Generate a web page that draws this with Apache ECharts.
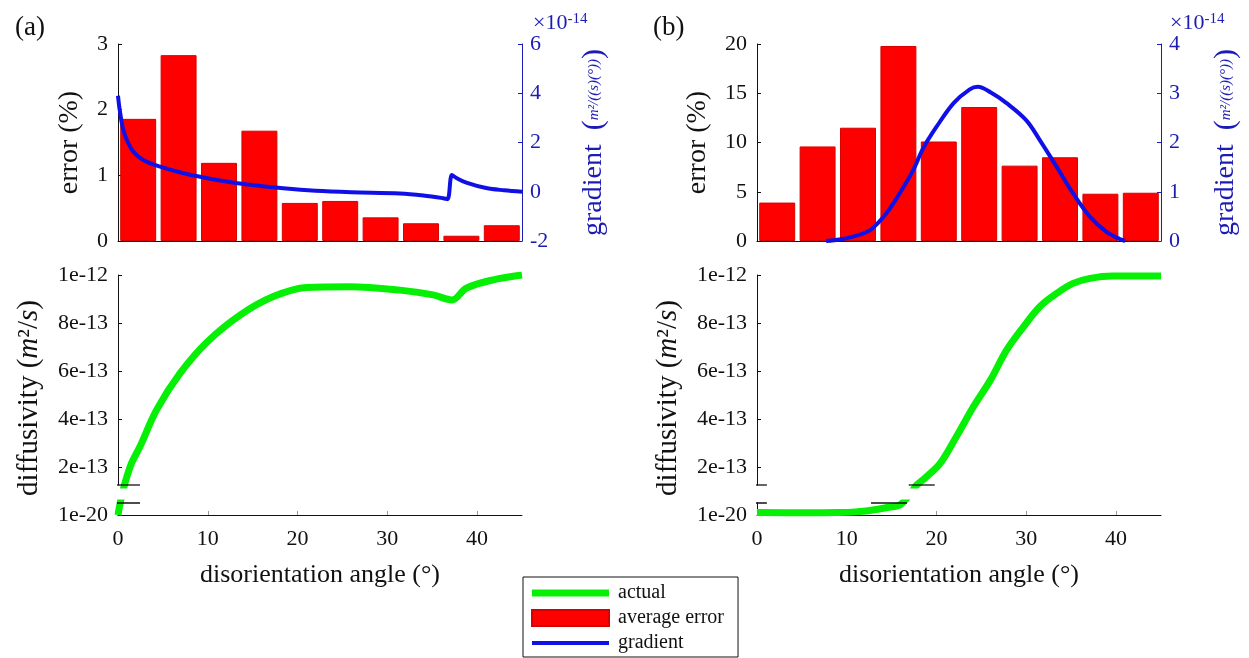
<!DOCTYPE html>
<html>
<head>
<meta charset="utf-8">
<script src="https://cdn.jsdelivr.net/npm/echarts@6/dist/echarts.min.js"></script>
<style>
  html, body { margin: 0; padding: 0; background: #fff; }
  #chart { width: 1249px; height: 658px; }
</style>
</head>
<body>
<div id="chart"></div>
<script>
// Angle bins (degrees) of the average-error histograms
const binLabels = ['0–4.5', '4.5–9', '9–13.5', '13.5–18', '18–22.5',
                   '22.5–27', '27–31.5', '31.5–36', '36–40.5', '40.5–45'];

// Average error per bin (%)
const errorA = [1.86, 2.83, 1.19, 1.68, 0.58, 0.61, 0.36, 0.27, 0.08, 0.24];
const errorB = [3.9, 9.6, 11.5, 19.8, 10.1, 13.6, 7.65, 8.5, 4.8, 4.9];

// Gradient of the diffusivity, [angle (deg), value (x1e-14)]
const gradientA = [[0, 3.9], [0.2, 3.3], [0.6, 2.5], [1.15, 1.97], [1.7, 1.63], [2.8, 1.29],
  [4.7, 1.02], [7.3, 0.75], [11, 0.48], [14.7, 0.28], [18.4, 0.14], [22, 0.04], [26, -0.02],
  [31.4, -0.07], [34, -0.15], [36.2, -0.26], [36.7, -0.3], [37.2, 0.68], [37.7, 0.56],
  [38.8, 0.37], [41, 0.15], [43, 0.06], [45, 0.0]];
const gradientB = [[7.7, 0.0], [9.2, 0.03], [10.7, 0.09], [12.6, 0.22], [14.4, 0.56],
  [15.9, 0.97], [17.4, 1.44], [18.5, 1.88], [20.0, 2.32], [21.9, 2.8], [23.7, 3.08],
  [24.6, 3.13], [26.0, 3.02], [27.8, 2.8], [30.0, 2.45], [31.5, 2.05], [33.4, 1.5],
  [35.2, 0.97], [37.1, 0.49], [38.9, 0.19], [40.4, 0.04], [41, 0.0]];

// Diffusivity, [angle (deg), value (m^2/s)]
const diffusivityA = [[0, 1e-20], [0.3, 6e-14], [0.78, 1.33e-13], [1.5, 2.15e-13], [2.45, 2.85e-13],
  [4.3, 4.38e-13], [6.9, 5.9e-13], [9.9, 7.2e-13], [13.6, 8.33e-13], [17.3, 9.1e-13],
  [21, 9.48e-13], [25.8, 9.51e-13], [31.4, 9.37e-13], [35.1, 9.17e-13], [37.2, 8.96e-13],
  [38.8, 9.45e-13], [41.8, 9.8e-13], [45, 1.0e-12]];
const diffusivityB = [[0, 1e-14], [5, 0.9e-14], [9, 1e-14], [11, 1.3e-14], [12.9, 2.1e-14],
  [14.5, 3.1e-14], [15.9, 4.2e-14], [17, 8.5e-14], [17.8, 1.25e-13], [18.9, 1.6e-13],
  [20.4, 2.15e-13], [22.2, 3.26e-13], [24.1, 4.51e-13], [26.0, 5.62e-13], [27.8, 6.87e-13],
  [29.7, 7.85e-13], [31.5, 8.68e-13], [33.4, 9.24e-13], [35.2, 9.65e-13], [37.1, 9.86e-13],
  [39.6, 9.96e-13], [45, 9.96e-13]];

// Broken diffusivity axis: lower segment [lowerMin, lowerMax], upper segment [upperMin, upperMax]
const lowerMin = 1e-20, lowerMax = 5e-14, upperMin = 1.25e-13, upperMax = 1e-12;
const upperTicks = [2e-13, 4e-13, 6e-13, 8e-13, 1e-12];
const angleTicks = [0, 10, 20, 30, 40];

// Angle spans of the break marks drawn at the edges of the two segments
const breakLowerA = [[-1, 2.45]];
const breakUpperA = [[-1, 2.45]];
const breakLowerB = [[-0.9, 1.1], [12.7, 16.7]];
const breakUpperB = [[-0.9, 1.1], [16.9, 19.8]];

const FONT = '"Liberation Serif", "Times New Roman", serif';
const BLACK = '#111';
const AXIS_BLUE = '#1c1cb4';
const RED = '#ff0000';
const GREEN = '#06f006';
const BLUE = '#1010e6';

const gradientName = 'gradient  {p|(}{f|m²/((s)(°))}{p|)}';
const gradientRich = {
  p: { fontSize: 30, fontFamily: FONT, color: AXIS_BLUE },
  f: { fontSize: 15, fontFamily: FONT, color: AXIS_BLUE, fontStyle: 'italic' }
};

function baseAxisStyle(color) {
  return {
    axisLine: { show: true, onZero: false, lineStyle: { color: color, width: 1 } },
    axisTick: { show: true, inside: true, length: 4, lineStyle: { color: color } },
    splitLine: { show: false },
    axisLabel: { color: color, fontSize: 22, fontFamily: FONT }
  };
}

function errorAxis(grid, max, interval, nameGap) {
  const s = baseAxisStyle(BLACK);
  return Object.assign(s, {
    type: 'value', gridIndex: grid, position: 'left', min: 0, max: max, interval: interval,
    name: 'error (%)', nameLocation: 'middle', nameRotate: 90, nameGap: nameGap,
    nameTextStyle: { fontSize: 28, fontFamily: FONT, color: BLACK },
    axisLabel: Object.assign(s.axisLabel, { margin: 10 })
  });
}

function gradientAxis(grid, min, max, interval, nameGap) {
  const s = baseAxisStyle(AXIS_BLUE);
  return Object.assign(s, {
    type: 'value', gridIndex: grid, position: 'right', min: min, max: max, interval: interval,
    name: gradientName, nameLocation: 'middle', nameRotate: 90, nameGap: nameGap,
    nameTextStyle: { fontSize: 28, fontFamily: FONT, color: AXIS_BLUE, rich: gradientRich },
    axisLabel: Object.assign(s.axisLabel, { margin: 8 })
  });
}

function upperDiffAxis(grid) {
  const s = baseAxisStyle(BLACK);
  return Object.assign(s, {
    type: 'value', gridIndex: grid, min: upperMin, max: upperMax,
    axisTick: Object.assign(s.axisTick, { customValues: upperTicks }),
    axisLabel: Object.assign(s.axisLabel, {
      margin: 10, customValues: upperTicks,
      formatter: v => Number(v).toExponential(0)
    })
  });
}

function lowerDiffAxis(grid) {
  const s = baseAxisStyle(BLACK);
  return Object.assign(s, {
    type: 'value', gridIndex: grid, min: lowerMin, max: lowerMax,
    axisTick: Object.assign(s.axisTick, { customValues: [lowerMin] }),
    axisLabel: Object.assign(s.axisLabel, {
      margin: 10, customValues: [lowerMin],
      formatter: v => Number(v).toExponential(0)
    })
  });
}

function hiddenAngleAxis(grid, position) {
  return { type: 'value', gridIndex: grid, min: 0, max: 45, show: false, position: position };
}

function angleAxis(grid) {
  const s = baseAxisStyle(BLACK);
  return Object.assign(s, {
    type: 'value', gridIndex: grid, min: 0, max: 45, position: 'bottom',
    axisTick: Object.assign(s.axisTick, { customValues: angleTicks, lineStyle: { color: '#999' } }),
    axisLabel: Object.assign(s.axisLabel, { margin: 13, customValues: angleTicks }),
    name: 'disorientation angle (°)', nameLocation: 'middle', nameGap: 47,
    nameTextStyle: { fontSize: 26, fontFamily: FONT, color: BLACK }
  });
}

function binAxis(grid) {
  return {
    type: 'category', gridIndex: grid, data: binLabels, position: 'bottom',
    axisLine: { show: true, lineStyle: { color: BLACK } },
    axisTick: { show: false }, axisLabel: { show: false }, splitLine: { show: false }
  };
}

function breakSeries(spans, xIdx, yIdx, yValue) {
  return spans.map((s, i) => ({
    type: 'line', name: 'break' + xIdx + '_' + i, xAxisIndex: xIdx, yAxisIndex: yIdx,
    data: [[s[0], yValue], [s[1], yValue]],
    symbol: 'none', clip: false, silent: true, z: 5,
    lineStyle: { color: BLACK, width: 1.3 }
  }));
}

function actualSeries(data, xIdx, yIdx) {
  return {
    type: 'line', name: 'actual', xAxisIndex: xIdx, yAxisIndex: yIdx, data: data,
    symbol: 'none', smooth: 0.35, clip: true, z: 3,
    lineStyle: { color: GREEN, width: 7 }, itemStyle: { color: GREEN }
  };
}

function gradientSeries(data, xIdx, yIdx) {
  return {
    type: 'line', name: 'gradient', xAxisIndex: xIdx, yAxisIndex: yIdx, data: data,
    symbol: 'none', smooth: 0.35, z: 4,
    lineStyle: { color: BLUE, width: 4 }, itemStyle: { color: BLUE }
  };
}

function errorSeries(data, xIdx, yIdx) {
  return {
    type: 'bar', name: 'average error', xAxisIndex: xIdx, yAxisIndex: yIdx, data: data,
    barCategoryGap: '11%', itemStyle: { color: RED, borderColor: '#d80000', borderWidth: 1 }
  };
}

// grid rectangles: (a) panel left, (b) panel right; each has error/gradient on top and
// the broken diffusivity plot (upper + lower segment) below
const PANEL_LEFT = [118, 757];
const PANEL_W = 404;
const grids = [];
PANEL_LEFT.forEach(l => {
  grids.push({ left: l, top: 44, width: PANEL_W, height: 197 });
  grids.push({ left: l, top: 275, width: PANEL_W, height: 210 });
  grids.push({ left: l, top: 503, width: PANEL_W, height: 12 });
});

const expTitle = left => ({
  text: '×10{s|-14}', left: left, top: 7,
  textStyle: { fontFamily: FONT, fontSize: 22, fontWeight: 'normal', color: AXIS_BLUE,
    rich: { s: { fontSize: 15, fontFamily: FONT, color: AXIS_BLUE, verticalAlign: 'top' } } }
});

const option = {
  animation: false,
  backgroundColor: '#fff',
  textStyle: { fontFamily: FONT },
  title: [
    { text: '(a)', left: 10, top: 9, textStyle: { fontFamily: FONT, fontSize: 27, fontWeight: 'normal', color: BLACK } },
    { text: '(b)', left: 648, top: 9, textStyle: { fontFamily: FONT, fontSize: 27, fontWeight: 'normal', color: BLACK } },
    expTitle(528), expTitle(1165)
  ],
  graphic: [0, 1].map(k => ({
    type: 'text', x: PANEL_LEFT[k] - 89, y: 398, rotation: Math.PI / 2,
    style: {
      text: 'diffusivity ({i|m}²/{i|s})',
      fontSize: 29, fontFamily: FONT, fill: BLACK,
      align: 'center', verticalAlign: 'middle', textAlign: 'center', textVerticalAlign: 'middle',
      rich: { i: { fontSize: 29, fontFamily: FONT, fontStyle: 'italic', fill: BLACK } }
    }
  })),
  legend: {
    data: [
      { name: 'actual', icon: 'path://M0,0H77V7H0Z' },
      { name: 'average error', icon: 'rect' },
      { name: 'gradient', icon: 'path://M0,0H77V4H0Z' }
    ],
    orient: 'vertical', left: 523, top: 577, height: 200,
    itemWidth: 77, itemHeight: 16, itemGap: 5,
    padding: [6, 14, 4, 8],
    borderColor: BLACK, borderWidth: 1,
    selectedMode: false,
    textStyle: { fontFamily: FONT, fontSize: 20, color: BLACK, lineHeight: 16, padding: [0, 0, 0, 4] }
  },
  grid: grids,
  xAxis: [
    binAxis(0), hiddenAngleAxis(0, 'top'), hiddenAngleAxis(1, 'bottom'), angleAxis(2),
    binAxis(3), hiddenAngleAxis(3, 'top'), hiddenAngleAxis(4, 'bottom'), angleAxis(5)
  ],
  yAxis: [
    errorAxis(0, 3, 1, 34), gradientAxis(0, -2, 6, 2, 57), upperDiffAxis(1), lowerDiffAxis(2),
    errorAxis(3, 20, 5, 45), gradientAxis(3, 0, 4, 1, 50), upperDiffAxis(4), lowerDiffAxis(5)
  ],
  series: [
    // panel (a)
    errorSeries(errorA, 0, 0),
    gradientSeries(gradientA, 1, 1),
    actualSeries(diffusivityA, 2, 2),
    actualSeries(diffusivityA, 3, 3),
    ...breakSeries(breakUpperA, 2, 2, upperMin),
    ...breakSeries(breakLowerA, 3, 3, lowerMax),
    // panel (b)
    errorSeries(errorB, 4, 4),
    gradientSeries(gradientB, 5, 5),
    actualSeries(diffusivityB, 6, 6),
    actualSeries(diffusivityB, 7, 7),
    ...breakSeries(breakUpperB, 6, 6, upperMin),
    ...breakSeries(breakLowerB, 7, 7, lowerMax)
  ]
};

const chart = echarts.init(document.getElementById('chart'), null, { renderer: 'canvas' });
chart.setOption(option);
</script>
</body>
</html>
